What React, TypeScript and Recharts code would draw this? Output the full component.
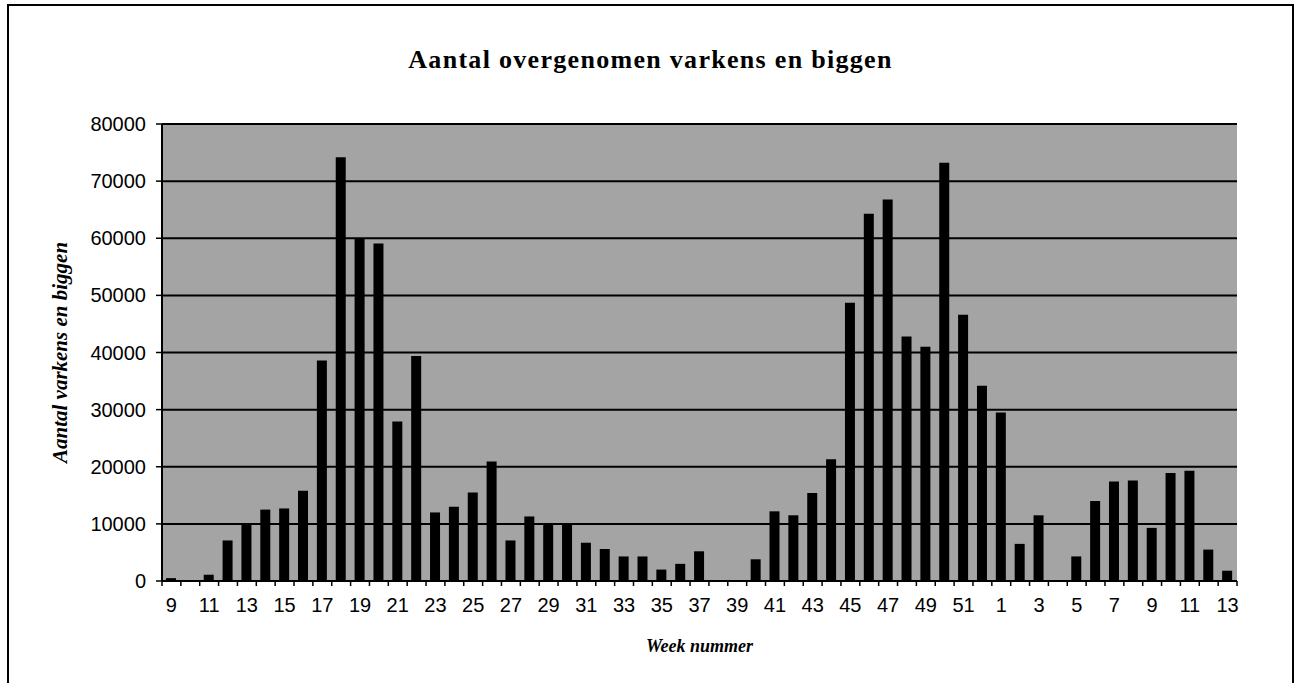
import React from 'react';
import { BarChart, Bar, XAxis, YAxis, CartesianGrid } from 'recharts';

// week numbers: 9..52 of the first year, then 1..13 of the next
const weeks: string[] = [
  '9', '10', '11', '12', '13', '14', '15', '16', '17', '18', '19', '20', '21', '22',
  '23', '24', '25', '26', '27', '28', '29', '30', '31', '32', '33', '34', '35', '36',
  '37', '38', '39', '40', '41', '42', '43', '44', '45', '46', '47', '48', '49', '50',
  '51', '52', '1', '2', '3', '4', '5', '6', '7', '8', '9', '10', '11', '12', '13',
];

const aantal: number[] = [
  500, 0, 1100, 7100, 10000, 12500, 12700, 15800, 38600, 74200, 60000, 59100, 27900, 39400,
  12000, 13000, 15500, 20900, 7100, 11300, 9800, 9900, 6700, 5600, 4300, 4300, 2000, 3000,
  5200, 0, 0, 3800, 12200, 11500, 15400, 21300, 48700, 64300, 66800, 42800, 41000, 73200,
  46600, 34200, 29500, 6500, 11500, 0, 4300, 14000, 17400, 17600, 9300, 18900, 19300, 5500, 1800,
];

const yTicks: number[] = [0, 10000, 20000, 30000, 40000, 50000, 60000, 70000, 80000];

const data = weeks.map((w, i) => ({ week: w, aantal: aantal[i] }));

const TICK_SIZE = 5;
const TICK_MARGIN = 12;

// Excel style: tick marks on the category borders, a label on every other week
const WeekTick = (props: any) => {
  const { x, y, payload, index } = props;
  const half = payload && typeof payload.offset === 'number' && payload.offset > 0 ? payload.offset : 9.43;
  const axisY = y - TICK_SIZE - TICK_MARGIN;
  return (
    <g>
      <line x1={x - half} x2={x - half} y1={axisY} y2={axisY + TICK_SIZE} stroke="#000" strokeWidth={1.5} />
      {index === weeks.length - 1 && (
        <line x1={x + half} x2={x + half} y1={axisY} y2={axisY + TICK_SIZE} stroke="#000" strokeWidth={1.5} />
      )}
      {index % 2 === 0 && (
        <text x={x} y={y} dy="0.71em" textAnchor="middle" fontFamily="'Liberation Sans', Arial, sans-serif" fontSize={20} fill="#000">
          {payload.value}
        </text>
      )}
    </g>
  );
};

const YTitle = (props: any) => {
  const vb = props.viewBox;
  const cx = vb.x - 42;
  const cy = vb.y + vb.height / 2;
  return (
    <text
      x={cx}
      y={cy}
      transform={`rotate(-90, ${cx}, ${cy})`}
      textAnchor="middle"
      dominantBaseline="central"
      fontFamily="'Liberation Serif', 'Times New Roman', serif"
      fontWeight="bold"
      fontStyle="italic"
      fontSize={21}
      fill="#000"
    >
      Aantal varkens en biggen
    </text>
  );
};

export default function App() {
  return (
    <div style={{ position: 'absolute', left: 0, top: 0, width: 1298, height: 683, background: '#fff', overflow: 'hidden' }}>
      <div
        style={{
          position: 'absolute', left: 7, top: 4, width: 1287, height: 720,
          boxSizing: 'border-box', border: '2px solid #000',
        }}
      />
      <div
        style={{
          position: 'absolute', left: 7, top: 45, width: 1287, textAlign: 'center',
          fontFamily: "'Liberation Serif', 'Times New Roman', serif", fontWeight: 'bold',
          fontSize: 26, letterSpacing: 1.3, color: '#000',
        }}
      >
        Aantal overgenomen varkens en biggen
      </div>
      <div style={{ position: 'absolute', left: 0, top: 0 }}>
        <BarChart
          width={1298}
          height={683}
          data={data}
          margin={{ top: 124, right: 61, left: 102, bottom: 62 }}
          barSize={10}
        >
          <CartesianGrid yAxisId="left" vertical={false} stroke="#000" strokeWidth={2} fill="#a4a4a4" fillOpacity={1} />
          <XAxis
            dataKey="week"
            interval={0}
            height={40}
            tickLine={false}
            tickSize={TICK_SIZE}
            tickMargin={TICK_MARGIN}
            axisLine={{ stroke: '#000', strokeWidth: 2 }}
            tick={<WeekTick />}
            label={{
              value: 'Week nummer', position: 'bottom', offset: 18, fill: '#000', fontSize: 18,
              fontWeight: 'bold', fontStyle: 'italic', fontFamily: "'Liberation Serif', 'Times New Roman', serif",
            }}
          />
          <YAxis
            yAxisId="left"
            width={60}
            domain={[0, 80000]}
            ticks={yTicks}
            interval={0}
            tickSize={6}
            tickMargin={10}
            axisLine={{ stroke: '#000', strokeWidth: 2 }}
            tickLine={{ stroke: '#000', strokeWidth: 1.5 }}
            tick={{ fill: '#000', fontSize: 20, fontFamily: "'Liberation Sans', Arial, sans-serif" }}
            label={<YTitle />}
          />
          <YAxis
            yAxisId="right"
            orientation="right"
            width={0}
            domain={[0, 80000]}
            tick={false}
            tickLine={false}
            axisLine={{ stroke: '#000', strokeWidth: 3 }}
          />
          <Bar yAxisId="left" dataKey="aantal" fill="#000" isAnimationActive={false} />
        </BarChart>
      </div>
    </div>
  );
}
